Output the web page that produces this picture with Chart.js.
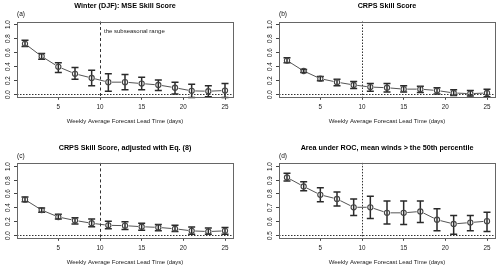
<!DOCTYPE html>
<html><head><meta charset="utf-8">
<script src="https://cdn.jsdelivr.net/npm/chart.js@4/dist/chart.umd.min.js"></script>
<style>
html,body{margin:0;padding:0;background:#fff;width:500px;height:271px;overflow:hidden;position:relative}
canvas{position:absolute}
</style></head><body>
<canvas id="pa" width="250" height="135" style="left:0px;top:0px"></canvas>
<canvas id="pb" width="250" height="135" style="left:250px;top:0px"></canvas>
<canvas id="pc" width="250" height="136" style="left:0px;top:135px"></canvas>
<canvas id="pd" width="250" height="136" style="left:250px;top:135px"></canvas>
<script>
// ---- data ----
const leadDays = [1,3,5,7,9,11,13,15,17,19,21,23,25];
const xTickLabels = [5,10,15,20,25];
const skillTicks = [0.0,0.2,0.4,0.6,0.8,1.0];
const aucTicks = [0.5,0.6,0.7,0.8,0.9,1.0];

const mseMean = [0.72,0.54,0.39,0.29,0.23,0.17,0.17,0.15,0.13,0.09,0.045,0.04,0.05];
const mseLow  = [0.68,0.50,0.31,0.21,0.12,0.04,0.06,0.06,0.05,0.00,-0.05,-0.04,-0.05];
const mseHigh = [0.77,0.58,0.45,0.38,0.34,0.29,0.28,0.24,0.20,0.17,0.14,0.12,0.15];

const crpsMean = [0.48,0.33,0.22,0.17,0.13,0.10,0.09,0.07,0.07,0.05,0.015,0.005,0.015];
const crpsLow  = [0.45,0.31,0.19,0.12,0.08,0.04,0.03,0.03,0.02,0.00,-0.02,-0.03,-0.04];
const crpsHigh = [0.52,0.35,0.25,0.21,0.18,0.15,0.15,0.12,0.11,0.09,0.06,0.05,0.07];

const adjMean = [0.51,0.36,0.26,0.21,0.17,0.14,0.135,0.12,0.11,0.09,0.06,0.05,0.06];
const adjLow  = [0.48,0.33,0.23,0.16,0.12,0.09,0.08,0.07,0.06,0.05,0.01,0.01,0.01];
const adjHigh = [0.55,0.39,0.30,0.25,0.23,0.20,0.19,0.17,0.15,0.14,0.115,0.10,0.11];

const aucMean = [0.915,0.85,0.79,0.76,0.70,0.70,0.66,0.66,0.67,0.61,0.58,0.59,0.60];
const aucLow  = [0.89,0.82,0.74,0.71,0.64,0.62,0.58,0.575,0.59,0.53,0.505,0.53,0.525];
const aucHigh = [0.945,0.885,0.84,0.81,0.76,0.78,0.745,0.745,0.745,0.69,0.64,0.64,0.665];

const titles = ["Winter (DJF): MSE Skill Score","CRPS Skill Score","CRPS Skill Score, adjusted with Eq. (8)","Area under ROC, mean winds > the 50th percentile"];
const letters = ["(a)","(b)","(c)","(d)"];
const xTitle = "Weekly Average Forecast Lead Time (days)";
const noteText = "the subseasonal range";
const subseasonalStart = 10;

const FONT = "'Liberation Sans', Arial, Helvetica, sans-serif";

const decoPlugin = {
  id: 'deco',
  afterDatasetsDraw(chart) {
    const o = chart.options.plugins.deco;
    const ctx = chart.ctx;
    const ca = chart.chartArea;
    const xs = chart.scales.x, ys = chart.scales.y;
    ctx.save();
    // reference lines
    ctx.strokeStyle = '#333';
    ctx.lineWidth = 1;
    ctx.setLineDash(o.hDash);
    const yr = Math.round(ys.getPixelForValue(o.ref)) + 0.5;
    ctx.beginPath(); ctx.moveTo(ca.left, yr); ctx.lineTo(ca.right, yr); ctx.stroke();
    ctx.setLineDash(o.vDash);
    const xv = Math.round(xs.getPixelForValue(subseasonalStart)) + 0.5;
    ctx.beginPath(); ctx.moveTo(xv, ca.top); ctx.lineTo(xv, ca.bottom); ctx.stroke();
    ctx.setLineDash([]);
    // error bars
    ctx.strokeStyle = '#2a2a2a';
    ctx.lineWidth = 1.5;
    leadDays.forEach((d, i) => {
      const px = xs.getPixelForValue(d);
      const yl = ys.getPixelForValue(o.low[i]);
      const yh = ys.getPixelForValue(o.high[i]);
      ctx.beginPath();
      ctx.moveTo(px, yl); ctx.lineTo(px, yh);
      ctx.moveTo(px - 3.5, yl); ctx.lineTo(px + 3.5, yl);
      ctx.moveTo(px - 3.5, yh); ctx.lineTo(px + 3.5, yh);
      ctx.stroke();
    });
    // circles
    ctx.strokeStyle = '#444';
    ctx.lineWidth = 1.1;
    leadDays.forEach((d, i) => {
      ctx.beginPath();
      ctx.arc(xs.getPixelForValue(d), ys.getPixelForValue(o.mean[i]), 2.6, 0, Math.PI * 2);
      ctx.stroke();
    });
    // box
    ctx.strokeStyle = '#666';
    ctx.lineWidth = 1;
    ctx.strokeRect(Math.round(ca.left) + 0.5, Math.round(ca.top) + 0.5, Math.round(ca.right - ca.left), Math.round(ca.bottom - ca.top));
    // y ticks and rotated labels
    ctx.strokeStyle = '#444';
    ctx.fillStyle = '#222';
    ctx.font = '6.3px ' + FONT;
    o.yTicks.forEach(v => {
      const py = Math.round(ys.getPixelForValue(v)) + 0.5;
      ctx.beginPath(); ctx.moveTo(ca.left, py); ctx.lineTo(ca.left - 3, py); ctx.stroke();
      ctx.save();
      ctx.translate(ca.left - 9, py);
      ctx.rotate(-Math.PI / 2);
      ctx.textAlign = 'center'; ctx.textBaseline = 'middle';
      ctx.fillText(v.toFixed(1), 0, 0);
      ctx.restore();
    });
    // title
    ctx.fillStyle = '#000';
    ctx.font = 'bold 7.2px ' + FONT;
    ctx.textAlign = 'center'; ctx.textBaseline = 'middle';
    ctx.fillText(o.title, (ca.left + ca.right) / 2, ca.top - 15);
    // panel letter
    ctx.font = '6.5px ' + FONT;
    ctx.fillStyle = '#111';
    ctx.textAlign = 'left';
    ctx.fillText(o.letter, ca.left, ca.top - 7);
    // note
    if (o.note) {
      ctx.font = '6px ' + FONT;
      ctx.fillStyle = '#222';
      ctx.fillText(o.note, xv + 3.5, ca.top + 10);
    }
    ctx.restore();
  }
};

function makePanel(id, geom, mean, low, high, yMin, yMax, yStep, yTicks, ref, deco) {
  const cv = document.getElementById(id);
  const W = cv.width, H = cv.height;
  new Chart(cv, {
    type: 'line',
    data: {
      datasets: [{
        data: leadDays.map((d, i) => ({x: d, y: mean[i]})),
        borderColor: '#555',
        borderWidth: 1,
        tension: 0,
        pointRadius: 3.6,
        pointBorderWidth: 0,
        pointBackgroundColor: '#fff',
        pointHoverRadius: 3.6,
        clip: 0
      }]
    },
    options: {
      responsive: false,
      animation: false,
      events: [],
      layout: {padding: {left: 0, right: W - geom.right, top: geom.top, bottom: 0}},
      scales: {
        x: {
          type: 'linear', min: 0.04, max: 25.96,
          afterFit: s => { s.height = H - geom.bottom; },
          ticks: {stepSize: 5, includeBounds: false, color: '#222', padding: 3.4,
                  font: {family: FONT, size: 6.3}, maxRotation: 0,
                  callback: v => xTickLabels.includes(v) ? String(v) : ''},
          grid: {display: true, drawOnChartArea: false, drawTicks: true, tickLength: 3, color: '#444', lineWidth: 1},
          border: {display: false},
          title: {display: true, text: xTitle, color: '#222', font: {family: FONT, size: 6},
                  padding: {top: 0, bottom: H - geom.bottom - 25 - 3.6}}
        },
        y: {
          type: 'linear', min: yMin, max: yMax,
          afterFit: s => { s.width = geom.left; },
          ticks: {display: false, stepSize: yStep, includeBounds: false},
          grid: {display: false},
          border: {display: false}
        }
      },
      plugins: {
        legend: {display: false},
        tooltip: {enabled: false},
        deco: Object.assign({mean, low, high, yTicks, ref}, deco)
      }
    },
    plugins: [decoPlugin]
  });
}

const dashed = [3, 2.5];
const dotted = [1.5, 1.5];

makePanel('pa', {left: 17, right: 233, top: 21.5, bottom: 96.8}, mseMean, mseLow, mseHigh, -0.04, 1.04, 0.2, skillTicks, 0,
  {title: titles[0], letter: letters[0], hDash: dotted, vDash: dashed, note: noteText});
makePanel('pb', {left: 29, right: 245, top: 21.5, bottom: 96.8}, crpsMean, crpsLow, crpsHigh, -0.04, 1.04, 0.2, skillTicks, 0,
  {title: titles[1], letter: letters[1], hDash: dotted, vDash: dotted, note: null});
makePanel('pc', {left: 17, right: 233, top: 27.9, bottom: 102.8}, adjMean, adjLow, adjHigh, -0.04, 1.04, 0.2, skillTicks, 0,
  {title: titles[2], letter: letters[2], hDash: dotted, vDash: dashed, note: null});
makePanel('pd', {left: 29, right: 245, top: 27.9, bottom: 102.8}, aucMean, aucLow, aucHigh, 0.48, 1.02, 0.1, aucTicks, 0.5,
  {title: titles[3], letter: letters[3], hDash: dotted, vDash: dotted, note: null});
</script>
</body></html>
